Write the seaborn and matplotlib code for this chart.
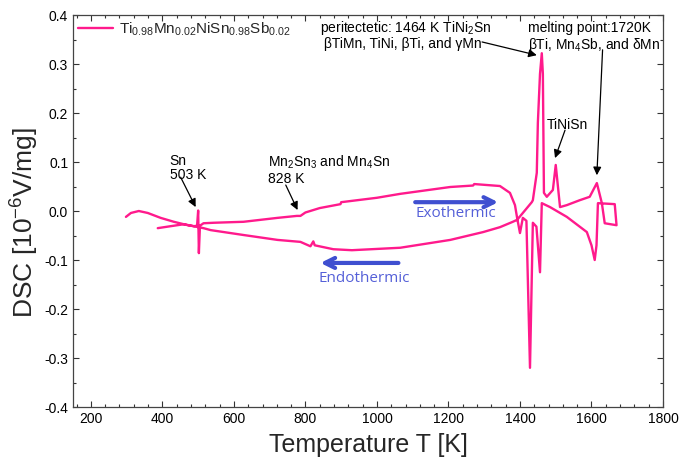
import matplotlib
matplotlib.use("Agg")
import matplotlib.pyplot as plt
import seaborn as sns
import pandas as pd
from matplotlib.ticker import MultipleLocator

sns.set_theme(style="ticks")
plt.rcParams['font.family'] = ['Liberation Sans', 'DejaVu Sans']
plt.rcParams['mathtext.fontset'] = 'custom'
plt.rcParams['mathtext.rm'] = 'Liberation Sans'
plt.rcParams['mathtext.it'] = 'Liberation Sans:italic'
plt.rcParams['mathtext.bf'] = 'Liberation Sans:bold'

# Heating branch (temperature K, DSC 10^-6 V/mg)
heat_T = [298, 312, 334, 359, 395, 432, 471, 488, 497, 500, 502, 505, 515,
          543, 627, 722, 776, 786, 800, 840, 898, 900, 1000, 1065, 1205,
          1269, 1272, 1344, 1372, 1386, 1392, 1400, 1408, 1418, 1428, 1436,
          1446, 1456, 1461, 1484, 1531, 1587, 1600, 1609, 1614, 1618, 1665,
          1670, 1637, 1629]
heat_v = [-0.012, -0.004, 0.000, -0.004, -0.014, -0.022, -0.029, -0.031,
          -0.030, 0.001, -0.086, -0.030, -0.025, -0.024, -0.022, -0.014,
          -0.010, -0.010, -0.003, 0.006, 0.014, 0.018, 0.027, 0.035, 0.049,
          0.052, 0.055, 0.051, 0.037, 0.012, -0.014, -0.045, -0.014, -0.020,
          -0.320, -0.024, -0.032, -0.125, 0.016, 0.008, -0.012, -0.043,
          -0.070, -0.100, -0.070, 0.016, 0.014, -0.029, -0.025, 0.016]

# Cooling branch
cool_T = [1629, 1615, 1595, 1567, 1531, 1512, 1500, 1492, 1475, 1467, 1464,
          1461, 1456, 1450, 1447, 1436, 1433, 1408, 1392, 1380, 1344, 1297,
          1205, 1065, 930, 878, 826, 822, 814, 786, 722, 627, 535, 515, 460,
          423, 387]
cool_v = [0.016, 0.057, 0.029, 0.022, 0.012, 0.008, 0.094, 0.043, 0.029,
          0.037, 0.280, 0.322, 0.280, 0.180, 0.078, 0.022, 0.018, -0.004,
          -0.018, -0.022, -0.033, -0.043, -0.059, -0.075, -0.080, -0.078,
          -0.070, -0.062, -0.072, -0.063, -0.059, -0.049, -0.039, -0.035,
          -0.027, -0.031, -0.035]

x_ticks = [200, 400, 600, 800, 1000, 1200, 1400, 1600, 1800]
y_ticks = [-0.4, -0.3, -0.2, -0.1, 0.0, 0.1, 0.2, 0.3, 0.4]

df = pd.DataFrame({
    'T': heat_T + cool_T,
    'DSC': heat_v + cool_v,
    'order': list(range(len(heat_T) + len(cool_T))),
})

line_color = '#ff1a8c'
blue = '#3f4fd0'

fig = plt.figure(figsize=(6.96, 4.66), dpi=100)
ax = fig.add_axes([0.1049, 0.1266, 0.8477, 0.8412])

sns.lineplot(data=df, x='T', y='DSC', sort=False, estimator=None, ax=ax,
             color=line_color, lw=1.7,
             label=r'Ti$_{0.98}$Mn$_{0.02}$NiSn$_{0.98}$Sb$_{0.02}$')

ax.set_xlim(150, 1800)
ax.set_ylim(-0.4, 0.4)
ax.set_xticks(x_ticks)
ax.set_yticks(y_ticks)
ax.set_yticklabels([f'{v:.1f}' for v in y_ticks])
ax.xaxis.set_minor_locator(MultipleLocator(40))
ax.yaxis.set_minor_locator(MultipleLocator(0.05))
ax.tick_params(which='both', direction='in', top=True, right=True,
               labelsize=10, colors='#333333', labelcolor='black')
ax.tick_params(which='major', length=4, width=0.8)
ax.tick_params(which='minor', length=2, width=0.8)
for s in ax.spines.values():
    s.set_color('#444444')
    s.set_linewidth(0.9)

ax.set_xlabel('Temperature T [K]', fontsize=18, labelpad=5)
ax.set_ylabel(r'DSC [10$^{-6}$V/mg]', fontsize=19)
ax.yaxis.set_label_coords(-0.055, 0.47)

leg = ax.legend(loc='upper left', frameon=False, fontsize=11,
                handlelength=2.3, borderaxespad=0.05, borderpad=0.3,
                handletextpad=0.35)

ann_kw = dict(fontsize=10, color='black')
arrow_kw = dict(arrowstyle='-|>', color='black', lw=0.9,
                mutation_scale=12, shrinkA=0, shrinkB=0)

ax.text(420, 0.088, 'Sn\n503 K', ha='left', va='center', linespacing=1.0, **ann_kw)
ax.annotate('', xy=(493, 0.008), xytext=(451, 0.069), arrowprops=arrow_kw)

ax.text(695, 0.085, r'Mn$_2$Sn$_3$ and Mn$_4$Sn' + '\n828 K', ha='left',
        va='center', linespacing=1.1, **ann_kw)
ax.annotate('', xy=(778, 0.002), xytext=(745, 0.053), arrowprops=arrow_kw)

ax.text(842, 0.359, r'peritectetic: 1464 K TiNi$_2$Sn' + '\n' +
        r' βTiMn, TiNi, βTi, and γMn', ha='left', va='center',
        linespacing=1.05, **ann_kw)
ax.annotate('', xy=(1447, 0.318), xytext=(1294, 0.345), arrowprops=arrow_kw)

ax.text(1422, 0.354, 'melting point:1720K\n' + r'βTi, Mn$_4$Sb, and δMn',
        ha='left', va='center', linespacing=1.05, **ann_kw)
ax.annotate('', xy=(1615, 0.073), xytext=(1631, 0.329), arrowprops=arrow_kw)

ax.text(1476, 0.175, 'TiNiSn', ha='left', va='center', **ann_kw)
ax.annotate('', xy=(1498, 0.108), xytext=(1526, 0.165), arrowprops=arrow_kw)

blue_arrow = dict(arrowstyle='->', color=blue, lw=3, mutation_scale=18,
                  shrinkA=0, shrinkB=0)
ax.annotate('', xy=(1339, 0.018), xytext=(1107, 0.018), arrowprops=blue_arrow)
ax.text(1220, -0.005, 'Exothermic', ha='center', va='center', fontsize=11,
        color='#5560d8', family=['Open Sans', 'DejaVu Sans'])
ax.annotate('', xy=(842, -0.106), xytext=(1060, -0.106), arrowprops=blue_arrow)
ax.text(965, -0.137, 'Endothermic', ha='center', va='center', fontsize=11,
        color='#5560d8', family=['Open Sans', 'DejaVu Sans'])

fig.savefig('out.png', dpi=100)
